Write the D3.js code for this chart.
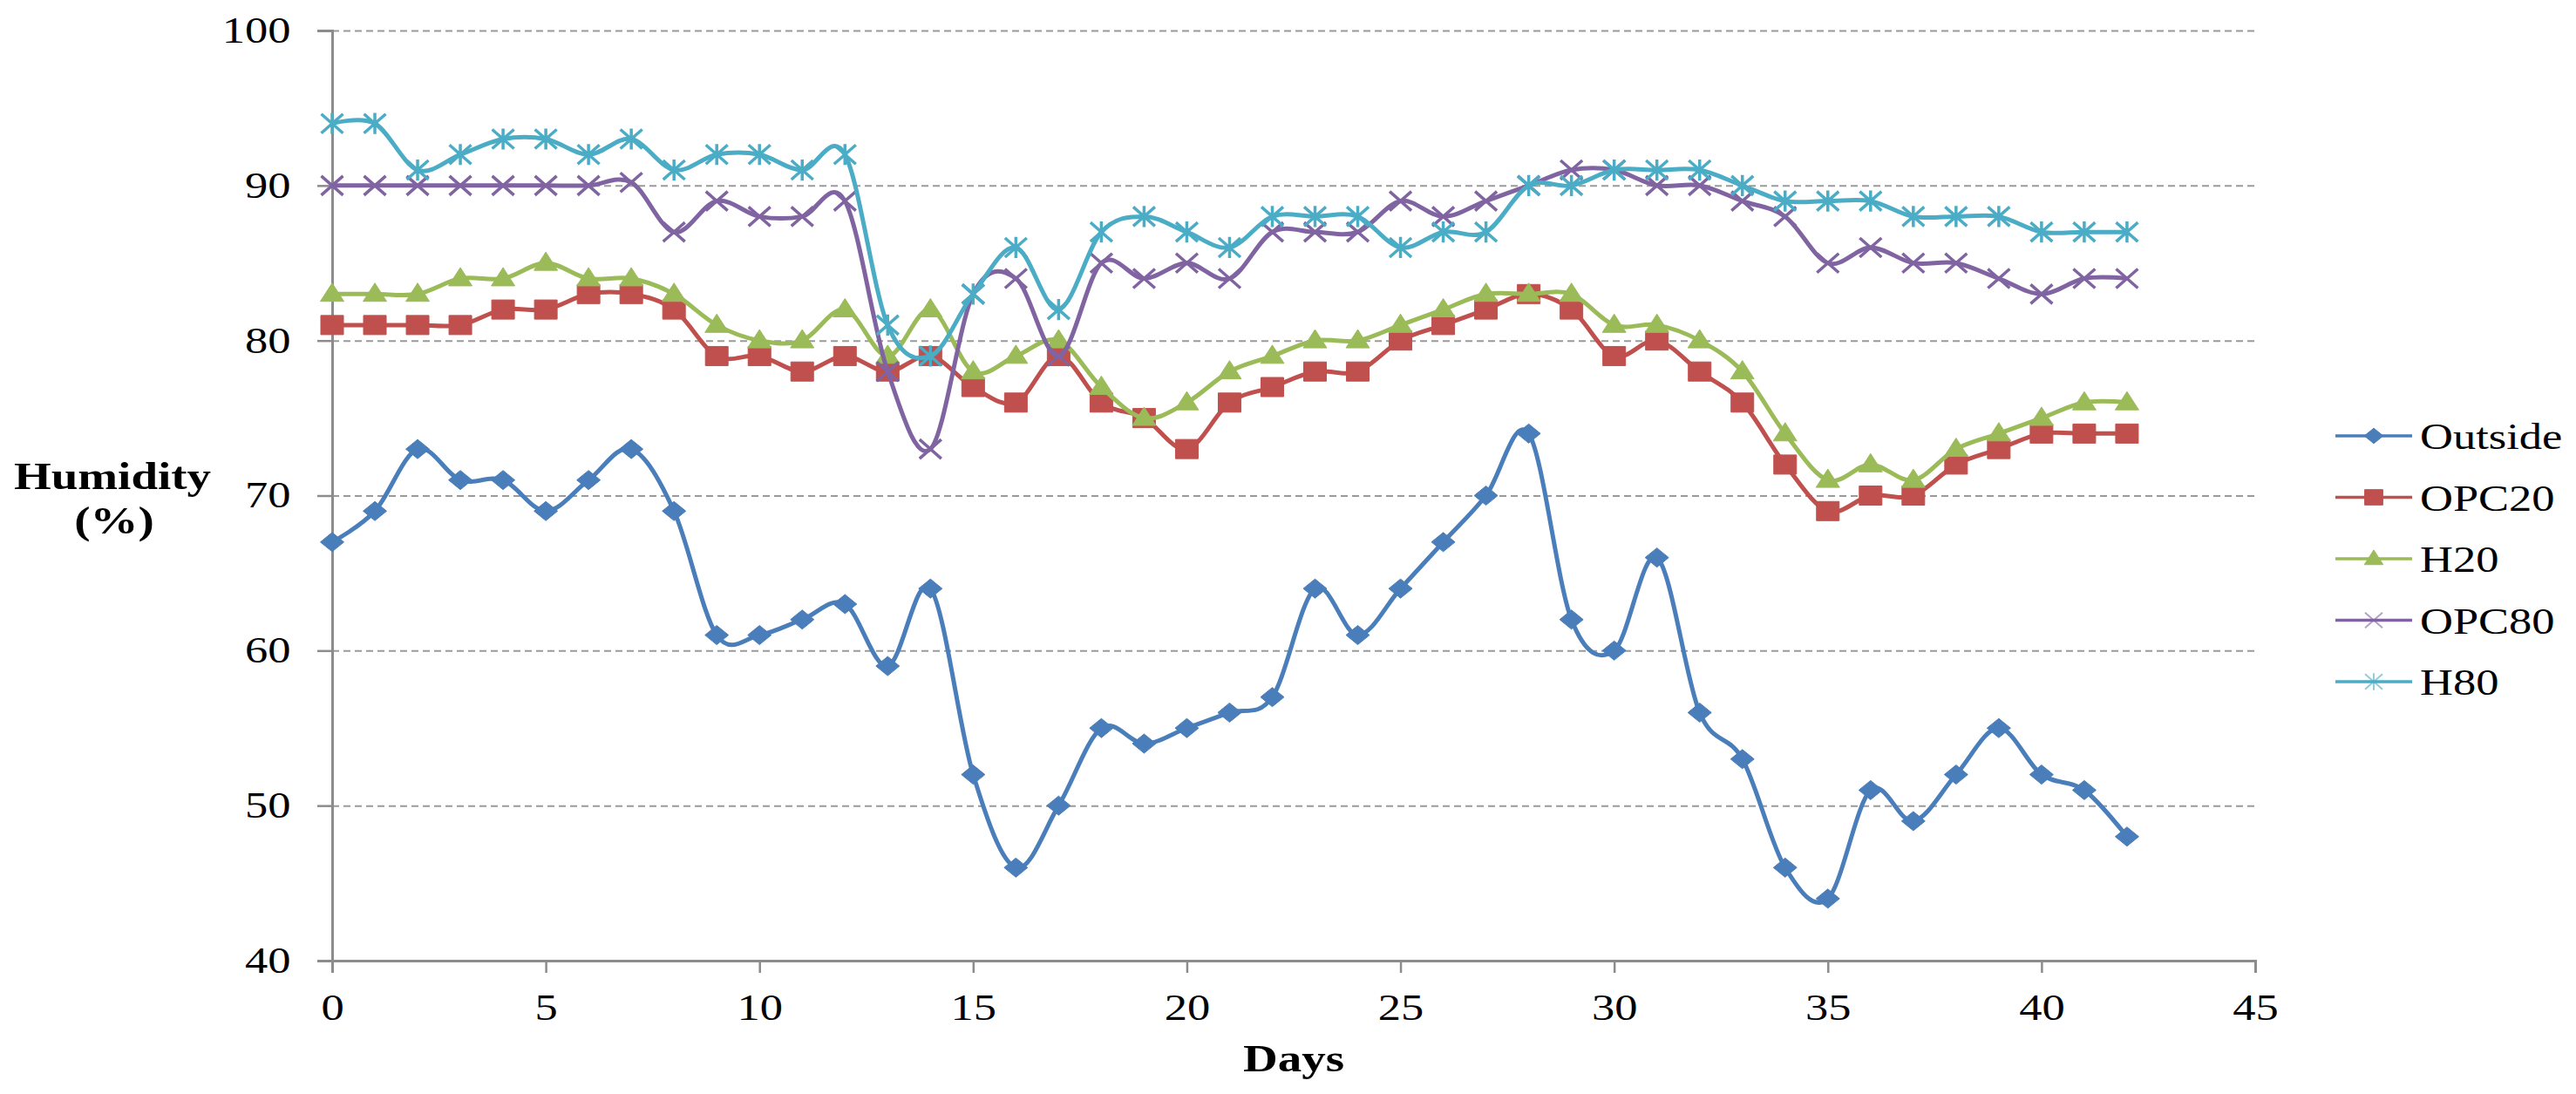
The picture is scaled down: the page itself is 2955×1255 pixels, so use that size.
<!DOCTYPE html>
<html>
<head>
<meta charset="utf-8">
<script src="https://cdn.jsdelivr.net/npm/d3@7"></script>
<style>
  body { margin: 0; background: #fff; }
  svg { display: block; }
  text { font-family: "Liberation Serif", "Times New Roman", serif; }
</style>
</head>
<body>
<div class="chart"></div>
<script>
// days 0..42
var days = d3.range(0, 43);

var outside = [67, 69, 73, 71, 71, 69, 71, 73, 69, 61, 61, 62, 63, 59, 64, 52, 46, 50, 55, 54, 55, 56,
    57, 64, 61, 64, 67, 70, 74, 62, 60, 66, 56, 53, 46, 44, 51, 49, 52, 55, 52, 51, 48];
var opc20 = [81, 81, 81, 81, 82, 82, 83, 83, 82, 79, 79, 78, 79, 78, 79, 77, 76, 79, 76, 75, 73, 76,
    77, 78, 78, 80, 81, 82, 83, 82, 79, 80, 78, 76, 72, 69, 70, 70, 72, 73, 74, 74, 74];
var h20 = [83, 83, 83, 84, 84, 85, 84, 84, 83, 81, 80, 80, 82, 79, 82, 78, 79, 80, 77, 75, 76, 78,
    79, 80, 80, 81, 82, 83, 83, 83, 81, 81, 80, 78, 74, 71, 72, 71, 73, 74, 75, 76, 76];
var opc80 = [90, 90, 90, 90, 90, 90, 90, 90.2, 87, 89, 88, 88, 89, 78, 73, 83, 84, 79, 85, 84, 85, 84,
    87, 87, 87, 89, 88, 89, 90, 91, 91, 90, 90, 89, 88, 85, 86, 85, 85, 84, 83, 84, 84];
var h80 = [94, 94, 91, 92, 93, 93, 92, 93, 91, 92, 92, 91, 92, 81, 79, 83, 86, 82, 87, 88, 87, 86,
    88, 88, 88, 86, 87, 87, 90, 90, 91, 91, 91, 90, 89, 89, 89, 88, 88, 88, 87, 87, 87];

var seriesNames = ['Outside', 'OPC20', 'H20', 'OPC80', 'H80'];
var seriesColors = ['#4a7ebb', '#c0504d', '#9bbb59', '#8064a2', '#4bacc6'];
var seriesMarkers = ['diamond', 'square', 'triangle', 'cross', 'star'];
var seriesValues = [outside, opc20, h20, opc80, h80];

var xTicks = [0, 5, 10, 15, 20, 25, 30, 35, 40, 45];
var yTicks = [40, 50, 60, 70, 80, 90, 100];

var W = 2955, H = 1255;
var SX = 1.25; // the picture is stretched sideways
var margin = {left: 381, top: 35, right: 368, bottom: 153};
var w = W - margin.left - margin.right,
    h = H - margin.top - margin.bottom;

var svg = d3.select('.chart').append('svg')
    .attr('width', W)
    .attr('height', H);

var g = svg.append('g')
    .attr('transform', 'translate(' + margin.left + ',' + margin.top + ')');

var x = d3.scaleLinear().domain([0, 45]).range([0, w]);
var y = d3.scaleLinear().domain([40, 100]).range([h, 0]);

// grid
g.append('g')
    .attr('class', 'grid')
    .call(d3.axisLeft(y).tickValues(yTicks.slice(1)).tickSize(-w).tickFormat(''))
    .call(function (s) {
        s.select('.domain').remove();
        s.selectAll('line')
            .attr('stroke', '#9a9a9a')
            .attr('stroke-width', 2)
            .attr('stroke-dasharray', '8,5');
    });

// axes
var yAxis = g.append('g')
    .call(d3.axisLeft(y).tickValues(yTicks).tickSize(17).tickPadding(21));
var xAxis = g.append('g')
    .attr('transform', 'translate(0,' + h + ')')
    .call(d3.axisBottom(x).tickValues(xTicks).tickSize(14).tickPadding(24));

[yAxis, xAxis].forEach(function (a) {
    a.select('.domain').attr('stroke', '#8c8c8c').attr('stroke-width', 3);
    a.selectAll('.tick line').attr('stroke', '#8c8c8c').attr('stroke-width', 2.5);
    a.selectAll('.tick text')
        .attr('fill', '#000')
        .style('font-size', '42px')
        .attr('transform', 'scale(' + SX + ',1)');
});

function markerPath(type, mw, mh) {
    var a = mw / 2, b = mh / 2;
    if (type === 'diamond') return 'M0,' + (-b) + 'L' + a + ',0L0,' + b + 'L' + (-a) + ',0Z';
    if (type === 'square') return 'M' + (-a) + ',' + (-b) + 'H' + a + 'V' + b + 'H' + (-a) + 'Z';
    if (type === 'triangle') return 'M0,' + (-b * 1.2) + 'L' + a + ',' + (b * 0.8) + 'L' + (-a) + ',' + (b * 0.8) + 'Z';
    if (type === 'cross') return 'M' + (-a) + ',' + (-b) + 'L' + a + ',' + b + 'M' + (-a) + ',' + b + 'L' + a + ',' + (-b);
    return 'M' + (-a) + ',' + (-b) + 'L' + a + ',' + b + 'M' + (-a) + ',' + b + 'L' + a + ',' + (-b) +
        'M0,' + (-b * 1.1) + 'V' + (b * 1.1);
}
var markerSize = {diamond: [27, 22], square: [26, 22], triangle: [27, 21], cross: [25, 22], star: [25, 22]};

function drawMarker(sel, type, color, k, thin) {
    var sz = markerSize[type];
    var filled = (type === 'diamond' || type === 'square' || type === 'triangle');
    sel.append('path')
        .attr('d', markerPath(type, sz[0] * k, sz[1] * k))
        .attr('fill', filled ? color : 'none')
        .attr('stroke', color)
        .attr('stroke-opacity', (!filled && thin) ? 0.6 : 1)
        .attr('stroke-width', filled ? 1 : (thin ? 2 : 3.5));
}

var line = d3.line()
    .x(function (d, i) { return x(days[i]); })
    .y(function (d) { return y(d); })
    .curve(d3.curveCardinal.tension(0));

seriesValues.forEach(function (vals, k) {
    var sg = g.append('g').attr('class', 'series');
    sg.append('path')
        .attr('d', line(vals))
        .attr('fill', 'none')
        .attr('stroke', seriesColors[k])
        .attr('stroke-width', 5);
    sg.selectAll('g.pt')
        .data(vals)
        .enter()
        .append('g')
        .attr('class', 'pt')
        .attr('transform', function (d, i) {
            return 'translate(' + x(days[i]) + ',' + y(d) + ')';
        })
        .each(function () {
            drawMarker(d3.select(this), seriesMarkers[k], seriesColors[k], 1, false);
        });
});

// axis titles
function stretchedText(tx, ty, str, size, bold, anchor) {
    return svg.append('text')
        .attr('transform', 'translate(' + tx + ',' + ty + ') scale(' + SX + ',1)')
        .attr('text-anchor', anchor || 'middle')
        .style('font-size', size + 'px')
        .style('font-weight', bold ? 'bold' : 'normal')
        .text(str);
}
stretchedText(129, 561, 'Humidity', 44, true);
stretchedText(131, 612, '(%)', 44, true);
stretchedText(margin.left + w / 2, 1229, 'Days', 44, true);

// legend
var legend = svg.append('g').attr('transform', 'translate(2679,500)');
seriesNames.forEach(function (name, k) {
    var lg = legend.append('g').attr('transform', 'translate(0,' + (k * 70.5) + ')');
    lg.append('line')
        .attr('x1', 0).attr('x2', 88)
        .attr('stroke', seriesColors[k])
        .attr('stroke-width', 3.5);
    var m = lg.append('g').attr('transform', 'translate(44,0)');
    drawMarker(m, seriesMarkers[k], seriesColors[k], 0.8, true);
    lg.append('text')
        .attr('transform', 'translate(97,15) scale(' + SX + ',1)')
        .style('font-size', '42px')
        .text(name);
});
</script>
</body>
</html>
